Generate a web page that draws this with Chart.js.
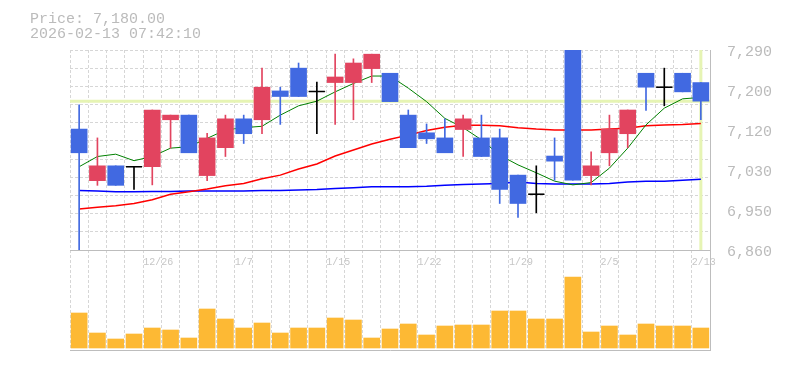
<!DOCTYPE html>
<html><head><meta charset="utf-8">
<script src="https://cdn.jsdelivr.net/npm/chart.js@4.4.1/dist/chart.umd.min.js"></script>
<style>
html,body{margin:0;padding:0;background:#fff;}
#wrap{position:relative;width:785px;height:370px;}
canvas{position:absolute;left:0;top:0;}
</style></head><body>
<div id="wrap"><canvas id="vol" width="785" height="370"></canvas><canvas id="price" width="785" height="370"></canvas></div>
<script>
const titleLines = ['Price: 7,180.00', '2026-02-13 07:42:10'];
const currentPrice = 7180;
const dates = ['12/22','12/23','12/24','12/25','12/26','12/29','12/30','1/5','1/6','1/7','1/8','1/9','1/13','1/14','1/15','1/16','1/19','1/20','1/21','1/22','1/23','1/26','1/27','1/28','1/29','1/30','2/2','2/3','2/4','2/5','2/6','2/9','2/10','2/12','2/13'];
const xTickLabels = ['12/26','1/7','1/15','1/22','1/29','2/5','2/13'];
const yTickLabels = ['6,860','6,950','7,030','7,120','7,200','7,290'];
const opens  = [7120,7009,7041,7039,7039,7140,7150,7020,7080,7142,7140,7202,7251,7201,7220,7220,7250,7240,7150,7112,7101,7119,7101,7101,7021,6980,7062,7290,7020,7069,7110,7240,7210,7240,7220];
const highs  = [7172,7101,7041,7039,7161,7150,7150,7111,7150,7150,7251,7210,7262,7221,7281,7271,7281,7240,7161,7131,7142,7150,7150,7120,7021,7041,7101,7290,7071,7150,7161,7240,7251,7240,7220];
const lows   = [6860,6999,6999,6990,7000,7079,7069,7009,7061,7089,7110,7130,7190,7110,7130,7140,7220,7179,7080,7089,7069,7061,7061,6960,6930,6940,7010,7010,7000,7041,7080,7160,7170,7200,7140];
const closes = [7069,7041,6999,7039,7161,7150,7069,7101,7142,7110,7210,7190,7190,7201,7232,7262,7281,7179,7080,7099,7069,7142,7061,6990,6960,6980,7051,7010,7041,7120,7161,7210,7210,7200,7180];
const ma5  = [7039,7061,7066,7052,7061,7079,7082,7100,7118,7123,7126,7150,7170,7180,7200,7218,7234,7234,7208,7179,7143,7123,7097,7064,7043,7026,7008,7000,7005,7036,7079,7129,7165,7185,7188];
const ma25 = [6948,6952,6955,6960,6968,6980,6985,6991,6998,7003,7013,7021,7034,7045,7062,7075,7088,7098,7107,7117,7124,7128,7128,7127,7123,7120,7118,7118,7118,7120,7122,7127,7129,7130,7132];
const ma75 = [6988,6987,6985,6985,6986,6986,6987,6987,6987,6987,6988,6988,6989,6990,6992,6994,6996,6996,6996,6997,6999,7001,7002,7003,7006,7003,7002,7002,7002,7003,7006,7008,7008,7010,7012];
const volumes = [35000,15000,9000,14000,20000,18000,10000,39000,29000,20000,25000,15000,20000,20000,30000,28000,10000,19000,24000,13000,22000,23000,23000,37000,37000,29000,29000,71000,16000,22000,13000,24000,22000,22000,20000];

const UP = '#e2445f', DOWN = '#4169e1', DOJI = '#000000';
const GRID = '#d6d6d6', FRAME = '#bdbdbd', LABEL = '#bbbbbb';
const MONO = '"Liberation Mono", "DejaVu Sans Mono", monospace';
const candleColor = i => closes[i] > opens[i] ? UP : (closes[i] < opens[i] ? DOWN : DOJI);

const yMin = Math.min(...lows), yMax = Math.max(...highs);

const titlePlugin = {
  id: 'titleText',
  afterDraw(chart) {
    const ctx = chart.ctx;
    ctx.save();
    ctx.font = '15px ' + MONO;
    ctx.fillStyle = LABEL;
    ctx.textBaseline = 'alphabetic';
    titleLines.forEach((t, k) => ctx.fillText(t, 30, 23 + k * 15));
    ctx.restore();
  }
};
const priceLinePlugin = {
  id: 'priceLine',
  beforeDatasetsDraw(chart) {
    const {ctx, chartArea, scales} = chart;
    const y = scales.y.getPixelForValue(currentPrice);
    const x = scales.x.getPixelForValue(dates.length - 1);
    ctx.save();
    ctx.strokeStyle = '#e6f4b4';
    ctx.lineWidth = 3;
    ctx.beginPath();
    ctx.moveTo(chartArea.left, y); ctx.lineTo(chartArea.right, y);
    ctx.moveTo(x, chartArea.top); ctx.lineTo(x, chartArea.bottom);
    ctx.stroke();
    ctx.restore();
  }
};

Chart.defaults.animation = false;
Chart.defaults.font.family = MONO;

new Chart(document.getElementById('price'), {
  type: 'bar',
  data: {
    labels: dates,
    datasets: [
      { type: 'bar', data: opens.map((o, i) => [o, closes[i]]), backgroundColor: ctx => candleColor(ctx.dataIndex),
        barThickness: 16, grouped: false, order: 0, borderSkipped: false },
      { type: 'bar', data: lows.map((l, i) => [l, highs[i]]), backgroundColor: ctx => candleColor(ctx.dataIndex),
        barThickness: 1, grouped: false, order: 1, borderSkipped: false },
      { type: 'line', data: closes.map((c, i) => c === opens[i] ? c : null), showLine: false,
        pointStyle: 'line', pointRadius: 8, pointBorderColor: DOJI, pointBorderWidth: 1.5, order: 0 },
      { type: 'line', data: ma5, borderColor: '#008000', borderWidth: 1, pointRadius: 0, tension: 0, order: 2 },
      { type: 'line', data: ma25, borderColor: '#ff0000', borderWidth: 1.5, pointRadius: 0, tension: 0, order: 2 },
      { type: 'line', data: ma75, borderColor: '#0000ff', borderWidth: 1.5, pointRadius: 0, tension: 0, order: 2 }
    ]
  },
  options: {
    responsive: false,
    layout: { padding: { left: 70, top: 50, right: 0, bottom: 0 } },
    plugins: { legend: { display: false }, tooltip: { enabled: false } },
    scales: {
      x: {
        offset: true,
        grid: { color: GRID, offset: true, drawTicks: false },
        border: { display: true, color: FRAME, dash: [3, 2] },
        ticks: {
          autoSkip: false, maxRotation: 0, align: 'start', labelOffset: -9, padding: 6,
          color: '#c6c6c6', font: { size: 10, family: MONO },
          callback: (v, i) => xTickLabels.includes(dates[i]) ? dates[i] : ''
        },
        afterFit: s => { s.height = 120; }
      },
      y: {
        position: 'left', min: yMin, max: yMax,
        grid: { color: GRID, drawTicks: false },
        border: { display: false, dash: [3, 2] },
        ticks: { display: false },
        afterBuildTicks: s => { s.ticks = Array.from({length: 12}, (_, k) => ({ value: yMin + k * (yMax - yMin) / 11 })); },
        afterFit: s => { s.width = 0; }
      },
      yLab: {
        position: 'right', min: yMin, max: yMax,
        grid: { display: false },
        border: { display: true, color: FRAME },
        ticks: { color: LABEL, font: { size: 15, family: MONO }, padding: 9, labelOffset: 2,
          callback: (v, i) => yTickLabels[i] },
        afterBuildTicks: s => { s.ticks = yTickLabels.map((_, k) => ({ value: yMin + k * (yMax - yMin) / (yTickLabels.length - 1) })); },
        afterFit: s => { s.width = 75; }
      }
    }
  },
  plugins: [titlePlugin, priceLinePlugin]
});

new Chart(document.getElementById('vol'), {
  type: 'bar',
  data: {
    labels: dates,
    datasets: [{ data: volumes, backgroundColor: '#fdb934', barThickness: 16 }]
  },
  options: {
    responsive: false,
    layout: { padding: { left: 70, top: 250, right: 0, bottom: 0 } },
    plugins: { legend: { display: false }, tooltip: { enabled: false } },
    scales: {
      x: {
        offset: true,
        grid: { color: GRID, offset: true, drawTicks: false },
        border: { display: true, color: FRAME, dash: [3, 2] },
        ticks: { display: false },
        afterFit: s => { s.height = 20; }
      },
      y: {
        position: 'right', min: -2000, max: 98000,
        grid: { display: false },
        border: { display: true, color: FRAME },
        ticks: { display: false },
        afterFit: s => { s.width = 75; }
      }
    }
  }
});
</script>
</body></html>
